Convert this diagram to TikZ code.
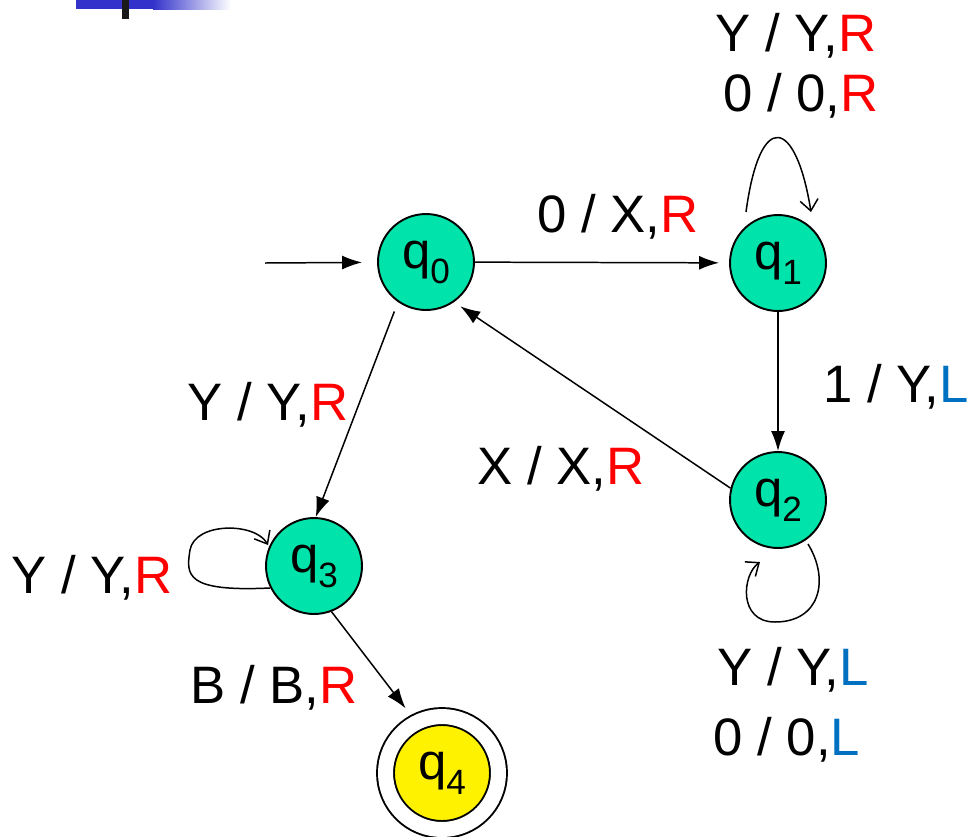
\documentclass[tikz,border=0pt]{standalone}
\usepackage{fontspec}
\setmainfont{Liberation Sans}
\usetikzlibrary{arrows.meta}
\usetikzlibrary{positioning}
\definecolor{stategreen}{RGB}{0,227,170}
\definecolor{moveblue}{RGB}{0,112,192}
\definecolor{barblue}{RGB}{51,51,204}
\newcommand{\mvR}{\textcolor{red}{R}}
\newcommand{\mvL}{\textcolor{moveblue}{L}}
\newcommand{\qsub}[1]{q\raisebox{-8.5pt}{\fontsize{20}{20}\selectfont #1}}

\begin{document}
\begin{tikzpicture}[x=0.02cm,y=-0.02cm,
  qnode/.style={circle,draw,line width=1.1pt,fill=stategreen,minimum size=1.92cm,inner sep=0pt,font=\fontsize{29}{31}\selectfont},
  qfinal/.style={qnode,fill=yellow,double,double distance=0.3cm,minimum size=2.26cm},
  lbl/.style={anchor=base,inner sep=0pt,font=\fontsize{30}{32}\selectfont},
  edge/.style={line width=0.85pt,-{Latex[length=0.4cm,width=0.28cm]}},
  loopedge/.style={line width=0.85pt,-{Straight Barb[length=0.22cm,width=0.36cm]}}]
\useasboundingbox (0,0) rectangle (971,836);

% corner mark
\fill[barblue] (76,0) rectangle (153,9);
\shade[left color=barblue,right color=white] (153,0) rectangle (231,9);
\fill[black!90] (122,0) rectangle (129,19);

% states
\node[qnode] (q0) at (426,262) {\qsub{0}};
\node[qnode] (q1) at (778,263) {\qsub{1}};
\node[qnode] (q2) at (778,500) {\qsub{2}};
\node[qnode] (q3) at (314,566) {\qsub{3}};
\node[qfinal] (q4) at (442,773) {\qsub{4}};

% transitions
\coordinate (start) at (265,263);
\draw[edge,shorten >=0.3cm] (start) -- (q0);
\draw[edge,shorten >=0.2cm] (q0) -- (q1);
\draw[edge] (q1) -- (q2);
\draw[edge,shorten >=0.15cm] (q2.166) -- (q0.-55);
\draw[edge,shorten <=0.2cm] (q0.-125) -- (q3.88);
\draw[edge,shorten >=0.34cm] (q3.-69) -- (q4.117);

% loops
\draw[loopedge] (746,212) .. controls (760,108) and (796,118) .. (811,212);
\draw[loopedge] (808,544) .. controls (830,580) and (820,622) .. (775,622)
  .. controls (738,622) and (742,575) .. (760,562);
\draw[loopedge] (270,588) .. controls (185,592) and (186,575) .. (190,550)
  .. controls (195,522) and (255,522) .. (268,545);

% labels
\node[lbl] (lq1a) at (796,51) {Y / Y,\mvR};
\node[lbl] (lq1b) at (801,111) {0 / 0,\mvR};
\node[lbl] (l01) at (618,232) {0 / X,\mvR};
\node[lbl] (l12) at (896,402) {1 / Y,\mvL};
\node[lbl] (l20) at (561,484) {X / X,\mvR};
\node[lbl] (l03) at (268,420) {Y / Y,\mvR};
\node[lbl] (lq3) at (92,593) {Y / Y,\mvR};
\node[lbl] (l34) at (274,703) {B / B,\mvR};
\node[lbl] (lq2a) at (793,685) {Y / Y,\mvL};
\node[lbl] (lq2b) at (787,755) {0 / 0,\mvL};
\end{tikzpicture}
\end{document}
